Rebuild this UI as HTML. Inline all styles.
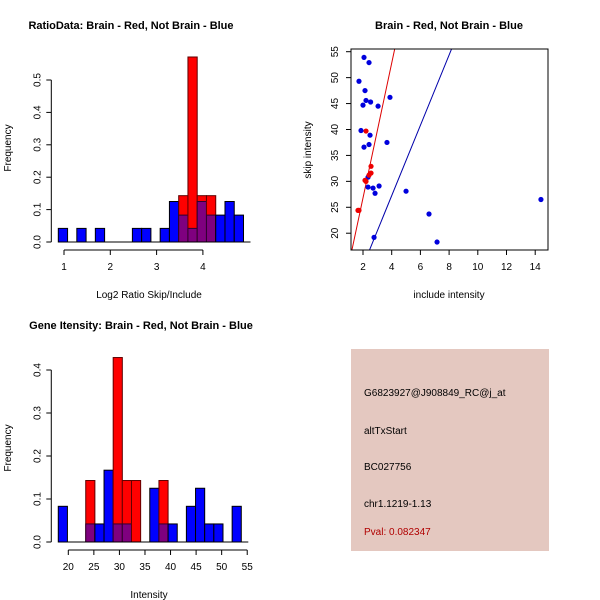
<!DOCTYPE html>
<html><head><meta charset="utf-8"><style>
body{margin:0;background:#fff}
svg{display:block;font-family:"Liberation Sans",sans-serif}
</style></head><body>
<svg id="s" width="600" height="600" xmlns="http://www.w3.org/2000/svg">
<rect width="600" height="600" fill="#fff"/>
<text x="131" y="29" font-size="11" font-weight="bold" text-anchor="middle" textLength="205">RatioData: Brain - Red, Not Brain - Blue</text>
<text x="449" y="29" font-size="11" font-weight="bold" text-anchor="middle">Brain - Red, Not Brain - Blue</text>
<text x="141" y="329" font-size="11" font-weight="bold" text-anchor="middle">Gene Itensity: Brain - Red, Not Brain - Blue</text>
<text x="149" y="298" font-size="10" text-anchor="middle">Log2 Ratio Skip/Include</text>
<text x="11" y="148" font-size="10" text-anchor="middle" transform="rotate(-90 11 148)">Frequency</text>
<text x="449" y="298" font-size="10" text-anchor="middle">include intensity</text>
<text x="311" y="150" font-size="10" text-anchor="middle" transform="rotate(-90 311 150)">skip intensity</text>
<text x="149" y="598" font-size="10" text-anchor="middle">Intensity</text>
<text x="11" y="448" font-size="10" text-anchor="middle" transform="rotate(-90 11 448)">Frequency</text>
<rect x="351" y="349" width="198" height="202" fill="#e4c8c0"/>
<text x="364" y="396" font-size="10">G6823927@J908849_RC@j_at</text>
<text x="364" y="434" font-size="10">altTxStart</text>
<text x="364" y="470" font-size="10">BC027756</text>
<text x="364" y="507" font-size="10">chr1.1219-1.13</text>
<text x="364" y="535" font-size="10" fill="#b00000">Pval: 0.082347</text>
</svg>
<script>
const ratioBlue=[0.042,0,0.042,0,0.042,0,0,0,0.042,0.042,0,0.042,0.125,0.083,0.042,0.125,0.083,0.083,0.125,0.083];
const ratioRed=[0,0,0,0,0,0,0,0,0,0,0,0,0,0.143,0.571,0.143,0.143,0,0,0];
const ratioXTicks=[1,2,3,4];
const ratioYTicks=[0,0.1,0.2,0.3,0.4,0.5];
const intBlue=[0.083,0,0,0.042,0.042,0.167,0.042,0.042,0,0,0.125,0.042,0.042,0,0.083,0.125,0.042,0.042,0,0.083];
const intRed=[0,0,0,0.143,0,0,0.429,0.143,0.143,0,0,0.143,0,0,0,0,0,0,0,0];
const intXTicks=[20,25,30,35,40,45,50,55];
const intYTicks=[0,0.1,0.2,0.3,0.4];
const blueX=[2.07,2.42,1.72,2.14,2.21,2.53,2.0,3.05,3.88,1.86,2.49,3.67,2.42,2.07,2.35,2.35,2.7,3.12,2.84,5.0,6.6,7.16,2.77,14.4];
const blueY=[53.9,52.9,49.3,47.5,45.6,45.3,44.7,44.5,46.2,39.8,38.9,37.5,37.1,36.6,30.8,28.9,28.7,29.1,27.7,28.1,23.7,18.3,19.2,26.5];
const redX=[2.21,2.56,2.56,2.42,2.14,2.21,1.65,1.72];
const redY=[39.7,32.9,31.6,31.2,30.2,30.0,24.4,24.4];
const scXTicks=[2,4,6,8,10,12,14];
const scYTicks=[20,25,30,35,40,45,50,55];
const redFit=[0.8,13.0];
const blueFit=[0.12,6.78];

const s=document.getElementById('s');
const NS='http://www.w3.org/2000/svg';
function mk(t,a,p){const e=document.createElementNS(NS,t);for(const k in a)e.setAttribute(k,a[k]);(p||s).appendChild(e);return e;}

function hist(blue,red,x0,bw,xs,ys,xTicks,yTicks,yDec,axisY,prefix){
  const g=mk('g',{});
  
  
  for(let i=0;i<blue.length;i++){
    const b=blue[i],r=red[i];
    const xa=xs(x0+i*bw),xb=xs(x0+(i+1)*bw);
    const mx=Math.max(b,r),mn=Math.min(b,r);
    if(mx<=0)continue;
    const col=r>=b?'#ff0000':'#0000ff';
    const st=r>=b?'#600000':'#000';
    const e=mk('rect',{x:xa,y:ys(mx),width:xb-xa,height:ys(0)-ys(mx),fill:col,stroke:st,'stroke-width':1},g);
    
    
    if(mn>0){
      const p=mk('rect',{x:xa,y:ys(mn),width:xb-xa,height:ys(0)-ys(mn),fill:'#7f007f',stroke:'#300030','stroke-width':1},g);
      
      
    }
  }
  const lastX=xs(x0+blue.length*bw);
  mk('line',{x1:xs(x0),x2:lastX+7,y1:ys(0),y2:ys(0),stroke:'#000'},g);
  const ax=xs(x0)-7;
  mk('line',{x1:ax,x2:ax,y1:ys(yTicks[0]),y2:ys(yTicks[yTicks.length-1]),stroke:'#000'},g);
  yTicks.forEach(v=>{
    mk('line',{x1:ax-5,x2:ax,y1:ys(v),y2:ys(v),stroke:'#000'},g);
    const t=mk('text',{x:ax-11,y:ys(v),'font-size':10,'text-anchor':'middle',transform:`rotate(-90 ${ax-11} ${ys(v)})`},g);
    t.textContent=v.toFixed(yDec);
  });
  mk('line',{x1:xs(xTicks[0]),x2:xs(xTicks[xTicks.length-1]),y1:axisY,y2:axisY,stroke:'#000'},g);
  xTicks.forEach(v=>{
    mk('line',{x1:xs(v),x2:xs(v),y1:axisY,y2:axisY+5,stroke:'#000'},g);
    const t=mk('text',{x:xs(v),y:axisY+20,'font-size':10,'text-anchor':'middle'},g);
    t.textContent=v;
  });
}
hist(ratioBlue,ratioRed,0.877,0.2,v=>64+(v-1)*46.3,v=>242-v*324,ratioXTicks,ratioYTicks,1,250,'ratio');
hist(intBlue,intRed,18.04,1.79,v=>68.3+(v-20)*5.112,v=>542-v*430,intXTicks,intYTicks,1,550,'intensity');

const sx=v=>363+(v-2)*14.35, sy=v=>51.7+(55-v)*5.186;
const sg=mk('g',{});


mk('clipPath',{id:'cp'},sg);
mk('rect',{x:351,y:49,width:197,height:201},document.getElementById('cp'));
[[redFit,'#dd0000','red-fit-line'],[blueFit,'#0000aa','blue-fit-line']].forEach(([f,c,n])=>{
  const xa=1.1,xb=15;
  const l=mk('line',{x1:sx(xa),y1:sy(f[0]+f[1]*xa),x2:sx(xb),y2:sy(f[0]+f[1]*xb),stroke:c,'clip-path':'url(#cp)'},sg);
  
  
});
blueX.forEach((x,i)=>{const c=mk('circle',{cx:sx(x),cy:sy(blueY[i]),r:2.6,fill:'#0000dd'},sg);
  
  });
redX.forEach((x,i)=>{const c=mk('circle',{cx:sx(x),cy:sy(redY[i]),r:2.6,fill:'#ee0000'},sg);
  
  });
mk('rect',{x:351,y:49,width:197,height:201,fill:'none',stroke:'#000'},sg);
scXTicks.forEach(v=>{mk('line',{x1:sx(v),x2:sx(v),y1:250,y2:255,stroke:'#000'},sg);
  const t=mk('text',{x:sx(v),y:270,'font-size':10,'text-anchor':'middle'},sg);t.textContent=v;});
scYTicks.forEach(v=>{mk('line',{x1:346,x2:351,y1:sy(v),y2:sy(v),stroke:'#000'},sg);
  const t=mk('text',{x:338,y:sy(v),'font-size':10,'text-anchor':'middle',transform:`rotate(-90 338 ${sy(v)})`},sg);t.textContent=v;});
</script>
</body></html>
